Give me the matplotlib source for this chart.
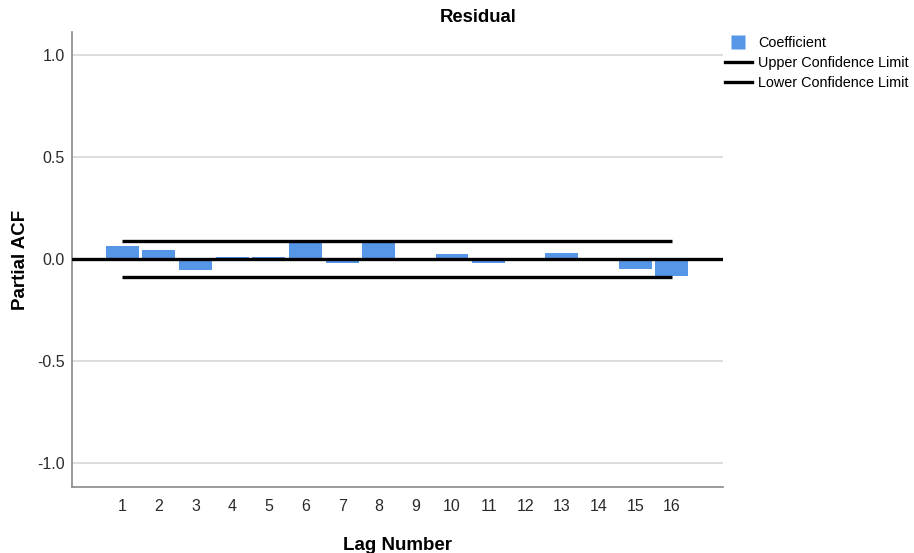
import matplotlib
matplotlib.use('Agg')
import matplotlib.pyplot as plt
from matplotlib.lines import Line2D
import numpy as np

plt.rcParams['font.family'] = ['Liberation Sans', 'DejaVu Sans']

lags = [1, 2, 3, 4, 5, 6, 7, 8, 9, 10, 11, 12, 13, 14, 15, 16]
pacf = [0.065, 0.044, -0.054, 0.012, 0.008, 0.077, -0.018, 0.077,
        0.003, 0.024, -0.021, 0.002, 0.029, 0.001, -0.050, -0.082]
upper_limit = [0.088] * 16
lower_limit = [-0.088] * 16

bar_color = '#5596E6'

fig = plt.figure(figsize=(9.14, 5.53), dpi=100)
ax = fig.add_axes([0.0788, 0.1194, 0.712, 0.8227])

ax.bar(lags, pacf, width=0.9, color=bar_color, zorder=2)
ax.axhline(0, color='black', lw=2.4, zorder=3)
ax.plot(lags, upper_limit, color='black', lw=2.4, solid_capstyle='butt', zorder=3)
ax.plot(lags, lower_limit, color='black', lw=2.4, solid_capstyle='butt', zorder=3)

ax.set_xlim(-0.37, 17.39)
ax.set_ylim(-1.115, 1.11)
ax.set_xticks(lags)
ax.set_yticks([-1.0, -0.5, 0.0, 0.5, 1.0])
ax.set_yticklabels(['-1.0', '-0.5', '0.0', '0.5', '1.0'])
ax.tick_params(length=0, labelsize=11.5, colors='#2A2A2A')
ax.tick_params(axis='x', pad=9)
ax.tick_params(axis='y', pad=5)
ax.grid(axis='y', color='#D6D6D6', lw=1.2, zorder=0)
ax.set_axisbelow(True)

for side in ['top', 'right']:
    ax.spines[side].set_visible(False)
for side in ['left', 'bottom']:
    ax.spines[side].set_color('#8A8A8A')
    ax.spines[side].set_linewidth(1.2)

ax.set_xlabel('Lag Number', fontsize=13.5, fontweight='bold', labelpad=16)
ax.set_ylabel('Partial ACF', fontsize=13.5, fontweight='bold', labelpad=6)
fig.text(478 / 914, 1 - 17 / 553, 'Residual', fontsize=13.3, fontweight='bold',
         ha='center', va='center')

handles = [Line2D([], [], linestyle='none', marker='s', markersize=10.5,
                  markerfacecolor=bar_color, markeredgecolor='none'),
           Line2D([], [], color='black', lw=2.4),
           Line2D([], [], color='black', lw=2.4)]
labels = ['Coefficient', 'Upper Confidence Limit', 'Lower Confidence Limit']
fig.legend(handles, labels, loc='upper left', bbox_to_anchor=(725 / 914, 1 - 36 / 553),
           frameon=False, fontsize=10.4, handlelength=1.85, handletextpad=0.45,
           labelspacing=0.42, borderaxespad=0, borderpad=0)

fig.savefig('out.png', dpi=100)
